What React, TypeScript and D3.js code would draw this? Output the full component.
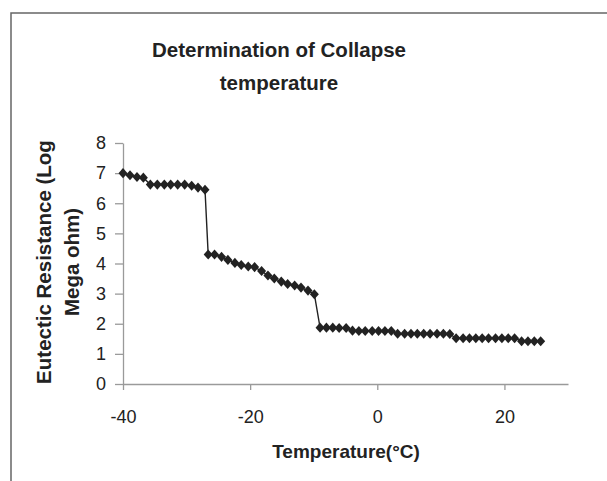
import { useEffect, useRef } from 'react';
import * as d3 from 'd3';

// temperature (°C) of each reading
const temps = [
  -40, -38.9, -37.8, -36.8, -35.7, -34.6, -33.5, -32.5, -31.4, -30.3, -29.2, -28.2, -27.1,
  -26.6, -25.6, -24.5, -23.5, -22.4, -21.4, -20.3, -19.3, -18.2, -17.2, -16.2, -15.1, -14.1,
  -13.0, -12.0, -10.9, -9.9,
  -9.0, -8.0, -7.0, -6.0, -4.9, -3.9, -2.9, -1.9, -0.8, 0.2, 1.2, 2.2,
  3.2, 4.3, 5.3, 6.3, 7.3, 8.3, 9.4, 10.4, 11.4,
  12.4, 13.5, 14.5, 15.5, 16.5, 17.5, 18.6, 19.6, 20.6, 21.6,
  22.7, 23.7, 24.7, 25.7,
];

// eutectic resistance (log mega ohm)
const resistance = [
  7.0, 6.93, 6.87, 6.85, 6.62, 6.62, 6.62, 6.62, 6.62, 6.62, 6.58, 6.52, 6.45,
  4.3, 4.3, 4.22, 4.12, 4.02, 3.95, 3.9, 3.88, 3.75, 3.6, 3.5, 3.4, 3.32,
  3.27, 3.2, 3.1, 2.98,
  1.87, 1.87, 1.87, 1.86, 1.86, 1.77, 1.76, 1.76, 1.76, 1.76, 1.76, 1.76,
  1.67, 1.67, 1.67, 1.67, 1.67, 1.67, 1.67, 1.67, 1.66,
  1.52, 1.52, 1.52, 1.52, 1.52, 1.52, 1.52, 1.52, 1.52, 1.52,
  1.42, 1.42, 1.42, 1.42,
];

const xTicks = [-40, -20, 0, 20];
const yTicks = [0, 1, 2, 3, 4, 5, 6, 7, 8];
const titleLines = ['Determination of Collapse', 'temperature'];
const yTitleLines = ['Eutectic Resistance (Log', 'Mega ohm)'];
const xTitle = 'Temperature(°C)';

export default function App() {
  const svgRef = useRef<SVGSVGElement>(null);

  useEffect(() => {
    const svg = d3.select(svgRef.current);
    svg.selectAll('*').remove();

    const width = 607;
    const height = 481;
    const font = '"Liberation Sans", Arial, sans-serif';
    const ink = '#222';
    const axisColor = '#9a9a9a';

    svg.attr('width', width).attr('height', height);

    svg.append('rect').attr('width', width).attr('height', height).attr('fill', '#fff');

    // frame (only left and top edges visible)
    svg.append('path')
      .attr('d', `M11,${height} L11,13 L${width},13`)
      .attr('fill', 'none')
      .attr('stroke', '#666')
      .attr('stroke-width', 1.5);

    const x = d3.scaleLinear().domain([-40, 30]).range([123, 568]);
    const y = d3.scaleLinear().domain([0, 8]).range([384, 143]);

    // axes
    const xAxis = svg.append('g')
      .attr('transform', `translate(0, ${y(0)})`)
      .call(d3.axisBottom(x).tickValues(xTicks).tickFormat(d => String(d))
        .tickSize(6).tickSizeOuter(0).tickPadding(20));

    const yAxis = svg.append('g')
      .attr('transform', `translate(${x(-40)}, 0)`)
      .call(d3.axisLeft(y).tickValues(yTicks).tickFormat(d => String(d))
        .tickSize(8).tickSizeOuter(0).tickPadding(9));

    [xAxis, yAxis].forEach(g => {
      g.select('.domain').attr('stroke', axisColor).attr('stroke-width', 1.3);
      g.selectAll('.tick line').attr('stroke', axisColor).attr('stroke-width', 1.3);
      g.selectAll('.tick text')
        .attr('fill', ink)
        .style('font-family', font)
        .style('font-size', '18px');
    });

    // series
    const points = temps.map((t, i) => ({ t, v: resistance[i] }));

    svg.append('path')
      .datum(points)
      .attr('fill', 'none')
      .attr('stroke', ink)
      .attr('stroke-width', 1.4)
      .attr('d', d3.line<{ t: number; v: number }>().x(d => x(d.t)).y(d => y(d.v)));

    const diamond = d3.symbol().type(d3.symbolDiamond2).size(52);
    svg.append('g')
      .selectAll('path')
      .data(points)
      .join('path')
      .attr('d', diamond())
      .attr('transform', d => `translate(${x(d.t)}, ${y(d.v)}) scale(1, 1.12)`)
      .attr('fill', ink);

    // title
    svg.append('text')
      .attr('text-anchor', 'middle')
      .style('font-family', font)
      .style('font-size', '20.5px')
      .style('font-weight', 'bold')
      .attr('fill', ink)
      .selectAll('tspan')
      .data(titleLines)
      .join('tspan')
      .attr('x', 279)
      .attr('y', (d, i) => 57 + i * 33)
      .text(d => d);

    // x title
    svg.append('text')
      .attr('x', 346)
      .attr('y', 458)
      .attr('text-anchor', 'middle')
      .style('font-family', font)
      .style('font-size', '19px')
      .style('font-weight', 'bold')
      .attr('fill', ink)
      .text(xTitle);

    // y title
    svg.append('g')
      .attr('transform', 'translate(0, 262) rotate(-90)')
      .append('text')
      .attr('text-anchor', 'middle')
      .style('font-family', font)
      .style('font-size', '20.5px')
      .style('font-weight', 'bold')
      .attr('fill', ink)
      .selectAll('tspan')
      .data(yTitleLines)
      .join('tspan')
      .attr('x', 0)
      .attr('y', (d, i) => 51 + i * 28)
      .text(d => d);
  }, []);

  return (
    <svg
      ref={svgRef}
      style={{ position: 'absolute', left: 0, top: 0, display: 'block' }}
    ></svg>
  );
}
